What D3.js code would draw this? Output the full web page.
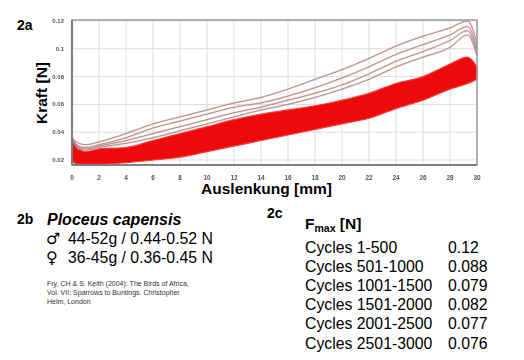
<!DOCTYPE html>
<html>
<head>
<meta charset="utf-8">
<script src="https://cdn.jsdelivr.net/npm/d3@7"></script>
<style>
  body { margin: 0; background: #fff; }
  svg { display: block; font-family: Arial, "Liberation Sans", sans-serif; }
</style>
</head>
<body>
<svg id="chart" width="524" height="360"></svg>
<script>
// Auslenkung [mm] sample positions
const xs = [0, 0.5, 1, 2, 4, 6, 8, 10, 12, 14, 16, 18, 20, 22, 24, 26, 28, 29.3, 30];

// red band (cycles 501-3000), upper and lower envelope [N]
const bandTop =    [0.036, 0.029, 0.026, 0.028, 0.029, 0.034, 0.039, 0.044, 0.049, 0.053, 0.056, 0.059, 0.063, 0.068, 0.075, 0.080, 0.089, 0.094, 0.087];
const bandBottom = [0.019, 0.017, 0.017, 0.017, 0.018, 0.020, 0.022, 0.026, 0.030, 0.034, 0.038, 0.042, 0.046, 0.050, 0.057, 0.063, 0.071, 0.075, 0.078];

// early cycles, thin curves above the band [N]
const curve1 = [0.036, 0.032, 0.031, 0.033, 0.039, 0.046, 0.051, 0.056, 0.061, 0.065, 0.071, 0.078, 0.085, 0.093, 0.102, 0.109, 0.115, 0.120, 0.104];
const curve2 = [0.035, 0.030, 0.029, 0.031, 0.036, 0.043, 0.048, 0.053, 0.058, 0.061, 0.066, 0.072, 0.079, 0.087, 0.096, 0.103, 0.110, 0.116, 0.100];
const curve3 = [0.035, 0.029, 0.028, 0.030, 0.034, 0.039, 0.044, 0.049, 0.054, 0.058, 0.063, 0.068, 0.074, 0.082, 0.091, 0.098, 0.106, 0.113, 0.097];
const curve4 = [0.035, 0.028, 0.027, 0.029, 0.032, 0.036, 0.041, 0.046, 0.051, 0.056, 0.060, 0.065, 0.071, 0.078, 0.087, 0.094, 0.101, 0.110, 0.095];

const xTicks = [0, 2, 4, 6, 8, 10, 12, 14, 16, 18, 20, 22, 24, 26, 28, 30];
const yTicks = [0.02, 0.04, 0.06, 0.08, 0.1, 0.12];
const yTickLabels = ["0.02", "0.04", "0.06", "0.08", "0.1", "0.12"];

// table 2c
const cycleLabels = ["Cycles 1-500", "Cycles 501-1000", "Cycles 1001-1500", "Cycles 1501-2000", "Cycles 2001-2500", "Cycles 2501-3000"];
const fmaxValues = ["0.12", "0.088", "0.079", "0.082", "0.077", "0.076"];

const refLines = [
  "Fry, CH & S. Keith (2004): The Birds of Africa,",
  "Vol. VII: Sparrows to Buntings. Christopher",
  "Helm, London"
];

const svg = d3.select("#chart");
const plot = { left: 72, right: 477, top: 20, bottom: 165 };

const x = d3.scaleLinear().domain([0, 30]).range([plot.left, plot.right]);
const y = d3.scaleLinear().domain([0.0164, 0.1207]).range([plot.bottom, plot.top]);

// blur filter for the fuzzy scanned tick labels
svg.append("defs").append("filter").attr("id", "soft")
  .append("feGaussianBlur").attr("stdDeviation", 0.35);

// grid
svg.append("g").selectAll("line").data(xTicks).join("line")
  .attr("x1", d => x(d)).attr("x2", d => x(d))
  .attr("y1", plot.top).attr("y2", plot.bottom)
  .attr("stroke", "#dcdcdc").attr("stroke-width", 1);
svg.append("g").selectAll("line").data(yTicks).join("line")
  .attr("x1", plot.left).attr("x2", plot.right)
  .attr("y1", d => y(d)).attr("y2", d => y(d))
  .attr("stroke", "#dcdcdc").attr("stroke-width", 1);

// red band
const area = d3.area()
  .x((d, i) => x(xs[i]))
  .y0((d, i) => y(bandBottom[i]))
  .y1((d, i) => y(bandTop[i]))
  .curve(d3.curveMonotoneX);
svg.append("path").datum(xs)
  .attr("d", area)
  .attr("fill", "#ee0a0a")
  .attr("stroke", "#f23a3a")
  .attr("stroke-width", 1.2);

// thin curves
const line = d3.line()
  .x((d, i) => x(xs[i]))
  .y(d => y(d))
  .curve(d3.curveMonotoneX);
const curves = [curve1, curve2, curve3, curve4];
svg.append("g").selectAll("path.halo").data(curves).join("path")
  .attr("class", "halo")
  .attr("d", line)
  .attr("fill", "none")
  .attr("stroke", "#eebcbc")
  .attr("stroke-width", 2)
  .attr("opacity", 0.6);
svg.append("g").selectAll("path.core").data(curves).join("path")
  .attr("class", "core")
  .attr("d", line)
  .attr("fill", "none")
  .attr("stroke", "#8e6e6e")
  .attr("stroke-width", 0.7);

// frame
svg.append("rect")
  .attr("x", plot.left).attr("y", plot.top)
  .attr("width", plot.right - plot.left).attr("height", plot.bottom - plot.top)
  .attr("fill", "none").attr("stroke", "#9a9a9a").attr("stroke-width", 1.5);
svg.append("line")
  .attr("x1", plot.left).attr("x2", plot.left)
  .attr("y1", plot.top).attr("y2", plot.bottom)
  .attr("stroke", "#6f6f6f").attr("stroke-width", 1.5);
svg.append("line")
  .attr("x1", plot.left).attr("x2", plot.right)
  .attr("y1", plot.bottom).attr("y2", plot.bottom)
  .attr("stroke", "#6f6f6f").attr("stroke-width", 1.5);

// tick labels
svg.append("g").attr("filter", "url(#soft)")
  .selectAll("text").data(xTicks).join("text")
  .attr("x", d => x(d)).attr("y", 180)
  .attr("text-anchor", "middle")
  .attr("font-size", 6.5).attr("font-weight", "bold").attr("fill", "#555")
  .text(d => d);
svg.append("g").attr("filter", "url(#soft)")
  .selectAll("text").data(yTicks).join("text")
  .attr("x", 64).attr("y", d => y(d) + 2)
  .attr("text-anchor", "end")
  .attr("font-size", 6).attr("font-weight", "bold").attr("fill", "#555")
  .text((d, i) => yTickLabels[i]);

// axis titles
svg.append("text")
  .attr("x", (plot.left + plot.right) / 2 - 8).attr("y", 194)
  .attr("text-anchor", "middle")
  .attr("font-size", 15.5).attr("font-weight", "bold")
  .text("Auslenkung [mm]");
svg.append("text")
  .attr("transform", "translate(47,93) rotate(-90)")
  .attr("text-anchor", "middle")
  .attr("font-size", 15.5).attr("font-weight", "bold")
  .text("Kraft [N]");

svg.append("text").attr("x", 17).attr("y", 30)
  .attr("font-size", 14).attr("font-weight", "bold").text("2a");

// 2b
svg.append("text").attr("x", 17).attr("y", 224)
  .attr("font-size", 14).attr("font-weight", "bold").text("2b");
svg.append("text").attr("x", 47).attr("y", 225)
  .attr("font-size", 16).attr("font-weight", "bold").attr("font-style", "italic")
  .text("Ploceus capensis");
svg.append("text").attr("x", 46).attr("y", 244)
  .attr("font-size", 16).attr("font-weight", "bold")
  .attr("font-family", "'DejaVu Sans', sans-serif").text("\u2642");
svg.append("text").attr("x", 68).attr("y", 244)
  .attr("font-size", 15.8).text("44-52g / 0.44-0.52 N");
svg.append("text").attr("x", 46).attr("y", 263)
  .attr("font-size", 16).attr("font-weight", "bold")
  .attr("font-family", "'DejaVu Sans', sans-serif").text("\u2640");
svg.append("text").attr("x", 68).attr("y", 263)
  .attr("font-size", 15.8).text("36-45g / 0.36-0.45 N");
svg.append("g").selectAll("text").data(refLines).join("text")
  .attr("x", 47).attr("y", (d, i) => 286 + i * 9)
  .attr("font-size", 7).attr("fill", "#333")
  .text(d => d);

// 2c
svg.append("text").attr("x", 267).attr("y", 218)
  .attr("font-size", 14).attr("font-weight", "bold").text("2c");
const fm = svg.append("text").attr("x", 305).attr("y", 229)
  .attr("font-size", 15.5).attr("font-weight", "bold");
fm.append("tspan").text("F");
fm.append("tspan").attr("font-size", 10.5).attr("dy", 3).text("max");
fm.append("tspan").attr("dy", -3).text(" [N]");

const rows = svg.append("g");
rows.selectAll("text.lab").data(cycleLabels).join("text")
  .attr("class", "lab")
  .attr("x", 305).attr("y", (d, i) => 253 + i * 19.1)
  .attr("font-size", 15.8).text(d => d);
rows.selectAll("text.val").data(fmaxValues).join("text")
  .attr("class", "val")
  .attr("x", 448).attr("y", (d, i) => 253 + i * 19.1)
  .attr("font-size", 15.8).text(d => d);
</script>
</body>
</html>
